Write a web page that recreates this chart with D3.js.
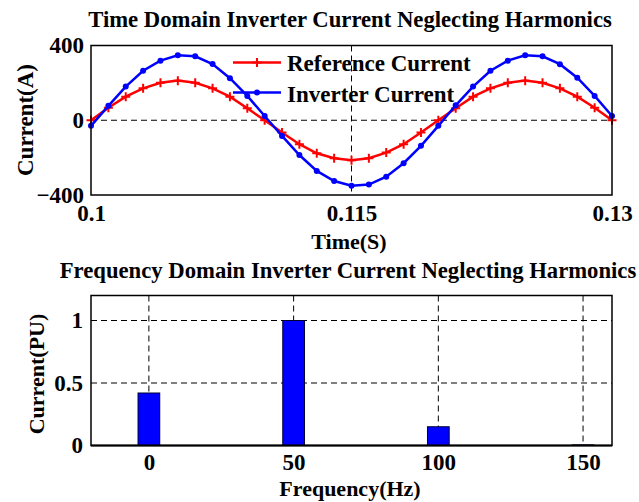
<!DOCTYPE html>
<html>
<head>
<meta charset="utf-8">
<script src="https://cdn.jsdelivr.net/npm/d3@7"></script>
<style>
  body { margin: 0; background: #fff; }
  text { font-family: "Liberation Serif", "Times New Roman", serif; font-weight: bold; }
</style>
</head>
<body>
<svg id="chart" width="639" height="502"></svg>
<script>
// time domain samples (s) and currents (A)
var timeSec = [0.100, 0.101, 0.102, 0.103, 0.104, 0.105, 0.106, 0.107, 0.108, 0.109,
               0.110, 0.111, 0.112, 0.113, 0.114, 0.115, 0.116, 0.117, 0.118, 0.119,
               0.120, 0.121, 0.122, 0.123, 0.124, 0.125, 0.126, 0.127, 0.128, 0.129, 0.130]
var refCurrent = [0, 67, 126, 171, 201, 212, 201, 171, 126, 64,
                  0, -66, -128, -177, -203, -214, -203, -173, -128, -66,
                  0, 64, 126, 171, 201, 212, 201, 171, 126, 67, 0]
var invCurrent = [-30, 77, 180, 265, 319, 348, 342, 301, 225, 130,
                  23, -84, -186, -271, -325, -350, -344, -302, -230, -137,
                  -30, 80, 180, 265, 319, 348, 342, 300, 228, 130, 23]
var timeTicks = [0.1, 0.115, 0.13]
var currentTicks = [-400, 0, 400]

// frequency domain
var freqHz = [0, 50, 100, 150]
var freqPU = [0.42, 1.0, 0.15, 0.005]
var freqTicks = [0, 50, 100, 150]
var puTicks = [0, 0.5, 1]

var legendNames = ['Reference Current', 'Inverter Current']

var svg = d3.select('#chart')
svg.append('rect').attr('width', 639).attr('height', 502).attr('fill', '#fff')

var left = 91, right = 612

/* ---------- top plot ---------- */
var x1 = d3.scaleLinear().domain([0.1, 0.13]).range([left, right])
var y1 = d3.scaleLinear().domain([-400, 400]).range([195, 45.5])

var topG = svg.append('g')

// grid
topG.selectAll('.hgrid').data([0]).enter().append('line')
    .attr('x1', left).attr('x2', right)
    .attr('y1', function(d) { return y1(d) }).attr('y2', function(d) { return y1(d) })
    .style('stroke', '#000').style('stroke-width', 1).style('stroke-dasharray', '6,4')
topG.selectAll('.vgrid').data([0.115]).enter().append('line')
    .attr('y1', y1(400)).attr('y2', y1(-400))
    .attr('x1', function(d) { return x1(d) }).attr('x2', function(d) { return x1(d) })
    .style('stroke', '#000').style('stroke-width', 1).style('stroke-dasharray', '6,4')

var refPts = timeSec.map(function(t, i) { return [t, refCurrent[i]] })
var invPts = timeSec.map(function(t, i) { return [t, invCurrent[i]] })
var line1 = d3.line().x(function(d) { return x1(d[0]) }).y(function(d) { return y1(d[1]) })

topG.append('path').attr('d', line1(refPts))
    .style('fill', 'none').style('stroke', '#ff0000').style('stroke-width', 2.5)
topG.selectAll('.plus').data(refPts).enter().append('path')
    .attr('d', function(d) {
        var cx = x1(d[0]), cy = y1(d[1])
        return 'M' + (cx - 4.5) + ',' + cy + 'H' + (cx + 4.5) + 'M' + cx + ',' + (cy - 4.5) + 'V' + (cy + 4.5)
    })
    .style('stroke', '#ff0000').style('stroke-width', 2)

topG.append('path').attr('d', line1(invPts))
    .style('fill', 'none').style('stroke', '#0000ff').style('stroke-width', 2.5)
topG.selectAll('.dot').data(invPts).enter().append('circle')
    .attr('cx', function(d) { return x1(d[0]) })
    .attr('cy', function(d) { return y1(d[1]) })
    .attr('r', 3).style('fill', '#0000ff')

// legend (no box)
var leg = topG.append('g')
leg.append('line').attr('x1', 233).attr('x2', 281).attr('y1', 62.5).attr('y2', 62.5)
    .style('stroke', '#ff0000').style('stroke-width', 2.5)
leg.append('path').attr('d', 'M252.5,62.5H261.5M257,58V67').style('stroke', '#ff0000').style('stroke-width', 2)
leg.append('line').attr('x1', 233).attr('x2', 281).attr('y1', 92.5).attr('y2', 92.5)
    .style('stroke', '#0000ff').style('stroke-width', 2.5)
leg.append('circle').attr('cx', 257).attr('cy', 92.5).attr('r', 3).style('fill', '#0000ff')
leg.selectAll('.lt').data(legendNames).enter().append('text')
    .attr('x', 287).attr('y', function(d, i) { return 70.5 + i * 31 })
    .style('font-size', '23px').text(function(d) { return d })

// frame
topG.append('rect').attr('x', left).attr('y', y1(400)).attr('width', right - left).attr('height', y1(-400) - y1(400))
    .style('fill', 'none').style('stroke', '#000').style('stroke-width', 1.5)

var ax1 = topG.append('g').attr('transform', 'translate(0,' + y1(-400) + ')')
    .call(d3.axisBottom(x1).tickValues(timeTicks).tickSize(0).tickPadding(10).tickFormat(d3.format('')))
var ay1 = topG.append('g').attr('transform', 'translate(' + left + ',0)')
    .call(d3.axisLeft(y1).tickValues(currentTicks).tickSize(0).tickPadding(7).tickFormat(d3.format('')))
;[ax1, ay1].forEach(function(a) {
    a.select('.domain').remove()
    a.selectAll('text').style('font-size', '23px').style('font-family', null).attr('fill', '#000')
})

topG.append('text').attr('x', 350).attr('y', 27).attr('text-anchor', 'middle')
    .style('font-size', '22.7px').text('Time Domain Inverter Current Neglecting Harmonics')
topG.append('text').attr('x', 349).attr('y', 249).attr('text-anchor', 'middle')
    .style('font-size', '22px').text('Time(S)')
topG.append('text').attr('transform', 'translate(33,120) rotate(-90)').attr('text-anchor', 'middle')
    .style('font-size', '23px').text('Current(A)')

/* ---------- bottom plot ---------- */
var x2 = d3.scaleLinear().domain([-20, 160]).range([left, right])
var y2 = d3.scaleLinear().domain([0, 1.2]).range([445.5, 295.5])

var botG = svg.append('g')

botG.selectAll('.hgrid').data([0.5, 1]).enter().append('line')
    .attr('x1', left).attr('x2', right)
    .attr('y1', function(d) { return y2(d) }).attr('y2', function(d) { return y2(d) })
    .style('stroke', '#000').style('stroke-width', 1).style('stroke-dasharray', '6,4')
botG.selectAll('.vgrid').data(freqTicks).enter().append('line')
    .attr('y1', y2(1.2)).attr('y2', y2(0))
    .attr('x1', function(d) { return x2(d) }).attr('x2', function(d) { return x2(d) })
    .style('stroke', '#000').style('stroke-width', 1).style('stroke-dasharray', '6,4')

var barW = x2(7.5) - x2(0)
botG.selectAll('.bar').data(freqHz).enter().append('rect')
    .attr('x', function(d) { return x2(d) - barW / 2 })
    .attr('y', function(d, i) { return y2(freqPU[i]) })
    .attr('width', barW)
    .attr('height', function(d, i) { return y2(0) - y2(freqPU[i]) })
    .style('fill', '#0000ff').style('stroke', '#000033').style('stroke-width', 1)

botG.append('rect').attr('x', left).attr('y', y2(1.2)).attr('width', right - left).attr('height', y2(0) - y2(1.2))
    .style('fill', 'none').style('stroke', '#000').style('stroke-width', 1.5)
botG.append('line').attr('x1', left).attr('x2', right).attr('y1', y2(0)).attr('y2', y2(0))
    .style('stroke', '#000').style('stroke-width', 2)

var ax2 = botG.append('g').attr('transform', 'translate(0,' + y2(0) + ')')
    .call(d3.axisBottom(x2).tickValues(freqTicks).tickSize(0).tickPadding(8))
var ay2 = botG.append('g').attr('transform', 'translate(' + left + ',0)')
    .call(d3.axisLeft(y2).tickValues(puTicks).tickSize(0).tickPadding(8).tickFormat(d3.format('')))
;[ax2, ay2].forEach(function(a) {
    a.select('.domain').remove()
    a.selectAll('text').style('font-size', '23px').style('font-family', null).attr('fill', '#000')
})

botG.append('text').attr('x', 348).attr('y', 278).attr('text-anchor', 'middle')
    .style('font-size', '22.7px').text('Frequency Domain Inverter Current Neglecting Harmonics')
botG.append('text').attr('x', 350).attr('y', 496).attr('text-anchor', 'middle')
    .style('font-size', '22px').text('Frequency(Hz)')
botG.append('text').attr('transform', 'translate(44,374) rotate(-90)').attr('text-anchor', 'middle')
    .style('font-size', '22px').text('Current(PU)')
</script>
</body>
</html>
